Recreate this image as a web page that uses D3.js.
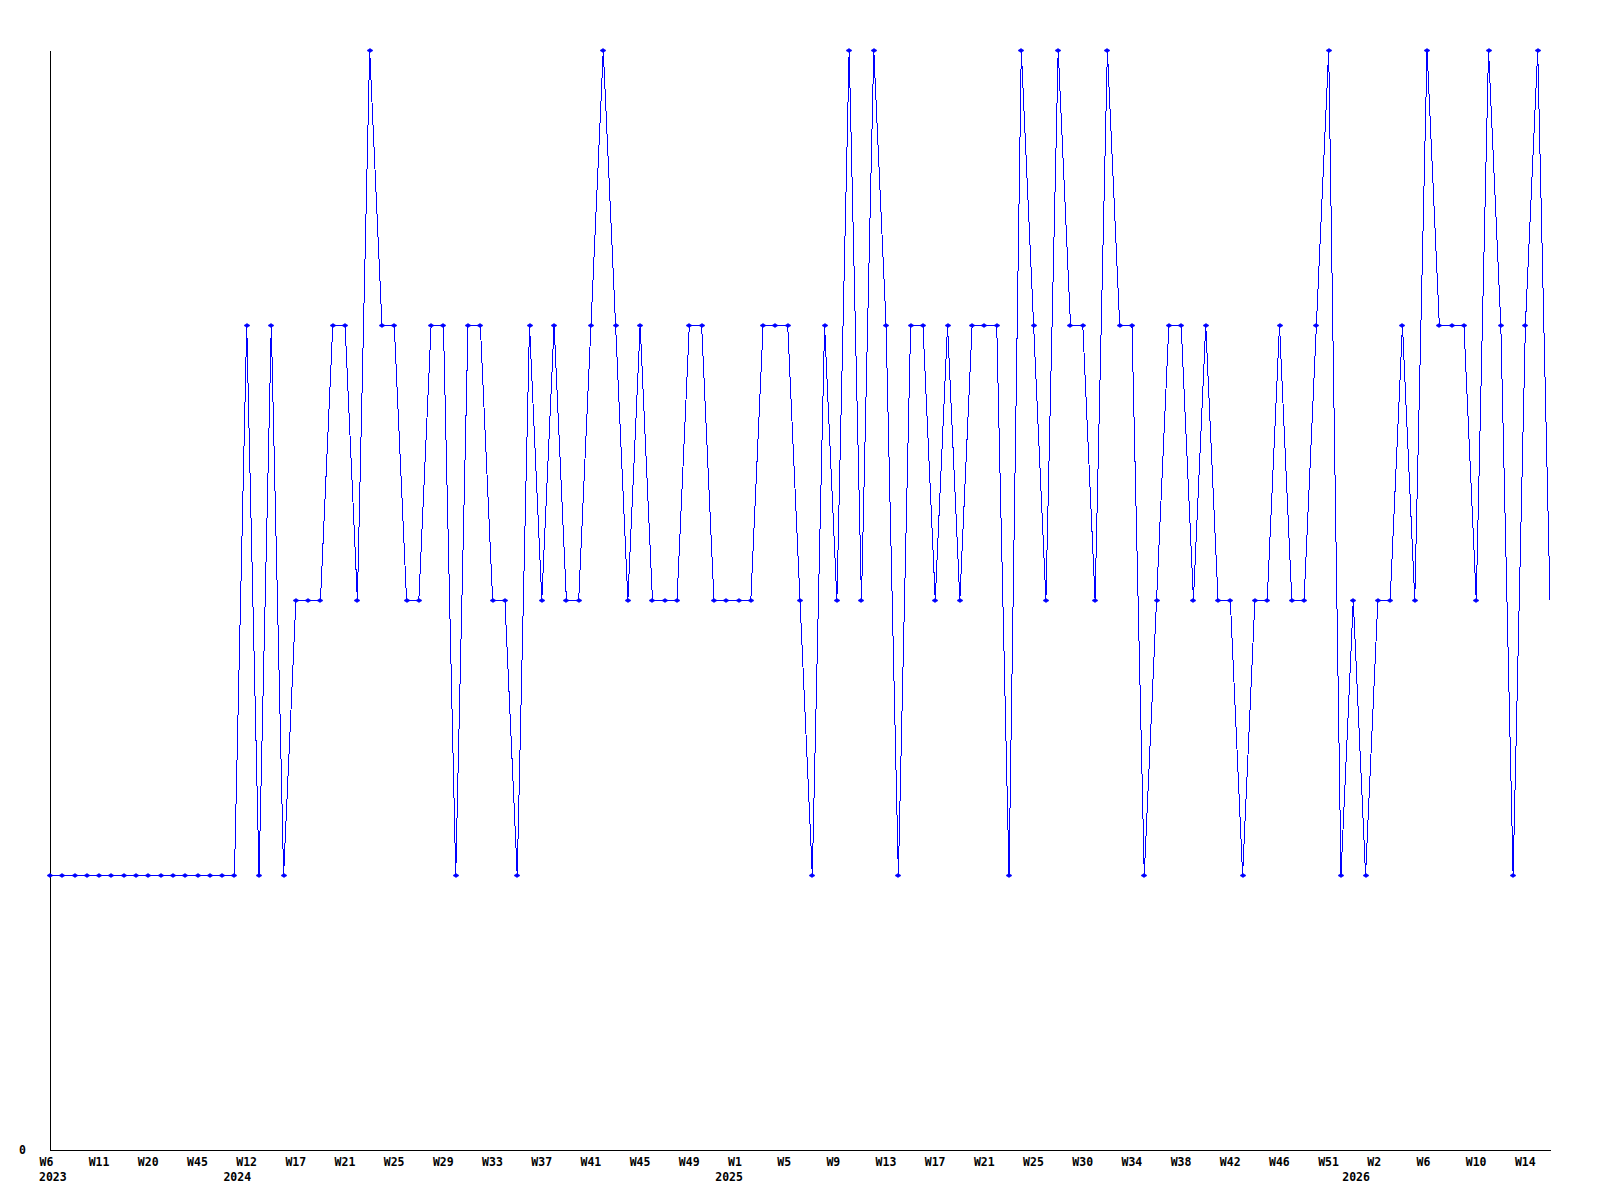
<!DOCTYPE html>
<html>
<head>
<meta charset="utf-8">
<script src="https://cdn.jsdelivr.net/npm/d3@7"></script>
<style>
  html, body { margin: 0; padding: 0; background: #fff; }
  text { font-family: "DejaVu Sans Mono", "Liberation Mono", monospace; font-weight: bold; font-size: 11.5px; fill: #000; }
</style>
</head>
<body>
<script>
// weekly values, one per point
const values = [
  1, 1, 1, 1, 1, 1, 1, 1, 1, 1, 1, 1, 1, 1, 1, 1,
  3, 1, 3, 1, 2, 2, 2, 3, 3, 2, 4, 3, 3, 2, 2, 3,
  3, 1, 3, 3, 2, 2, 1, 3, 2, 3, 2, 2, 3, 4, 3, 2,
  3, 2, 2, 2, 3, 3, 2, 2, 2, 2, 3, 3, 3, 2, 1, 3,
  2, 4, 2, 4, 3, 1, 3, 3, 2, 3, 2, 3, 3, 3, 1, 4,
  3, 2, 4, 3, 3, 2, 4, 3, 3, 1, 2, 3, 3, 2, 3, 2,
  2, 1, 2, 2, 3, 2, 2, 3, 4, 1, 2, 1, 2, 2, 3, 2,
  4, 3, 3, 3, 2, 4, 3, 1, 3, 4, 2
];

// week labels, shown on every 4th point
const weekLabels = [
  "W6", "W11", "W20", "W45", "W12", "W17", "W21", "W25", "W29", "W33", "W37",
  "W41", "W45", "W49", "W1", "W5", "W9", "W13", "W17", "W21", "W25", "W30",
  "W34", "W38", "W42", "W46", "W51", "W2", "W6", "W10", "W14"
];
const weekStep = 4;

// year labels and the first point of each year
const years = ["2023", "2024", "2025", "2026"];
const yearStart = [0, 15, 55, 106];

const yMax = 4;

const width = 1600, height = 1200;
const svg = d3.select("body").append("svg")
    .attr("width", width)
    .attr("height", height);

const x = d3.scalePoint()
    .domain(d3.range(values.length))
    .range([50, 1550]);

const y = d3.scaleLinear()
    .domain([0, yMax])
    .range([1150, 50]);

// x axis: week labels
const xAxis = svg.append("g")
    .attr("transform", "translate(0,1150)")
    .call(d3.axisBottom(x)
        .tickValues(weekLabels.map((d, i) => i * weekStep))
        .tickFormat(i => weekLabels[i / weekStep])
        .tickSize(0)
        .tickSizeOuter(0)
        .tickPadding(0));
xAxis.attr("font-family", null).attr("font-size", null);
xAxis.select(".domain").attr("stroke", "#000").attr("shape-rendering", "crispEdges");
xAxis.selectAll("text")
    .attr("text-anchor", "start")
    .attr("dx", -11)
    .attr("y", 11.5)
    .attr("dy", "0.35em");

// year labels under the weeks
svg.append("g").selectAll("text")
    .data(years)
    .join("text")
    .attr("x", (d, i) => x(yearStart[i]) - 11)
    .attr("y", 1177)
    .attr("dy", "0.35em")
    .text(d => d);

// y axis: only zero labelled
const yAxis = svg.append("g")
    .attr("transform", "translate(50,0)")
    .call(d3.axisLeft(y)
        .tickValues([0])
        .tickFormat(d3.format("d"))
        .tickSize(0)
        .tickSizeOuter(0)
        .tickPadding(24));
yAxis.attr("font-family", null).attr("font-size", null);
yAxis.select(".domain").attr("stroke", "#000").attr("shape-rendering", "crispEdges");

// the line
svg.append("path")
    .datum(values)
    .attr("fill", "none")
    .attr("stroke", "#0000ff")
    .attr("stroke-width", 1)
    .attr("shape-rendering", "crispEdges")
    .attr("d", d3.line()
        .x((d, i) => x(i))
        .y(d => y(d)));

// point markers (the last, partial week has none)
svg.append("g")
    .attr("fill", "#0000ff")
    .attr("stroke", "#0000ff")
    .attr("stroke-width", 0.6)
    .selectAll("path")
    .data(values.slice(0, -1))
    .join("path")
    .attr("transform", (d, i) => "translate(" + Math.round(x(i)) + "," + (Math.round(y(d)) + 0.5) + ")")
    .attr("d", "M-3,0L0,-2L3,0L0,2Z");
</script>
</body>
</html>
